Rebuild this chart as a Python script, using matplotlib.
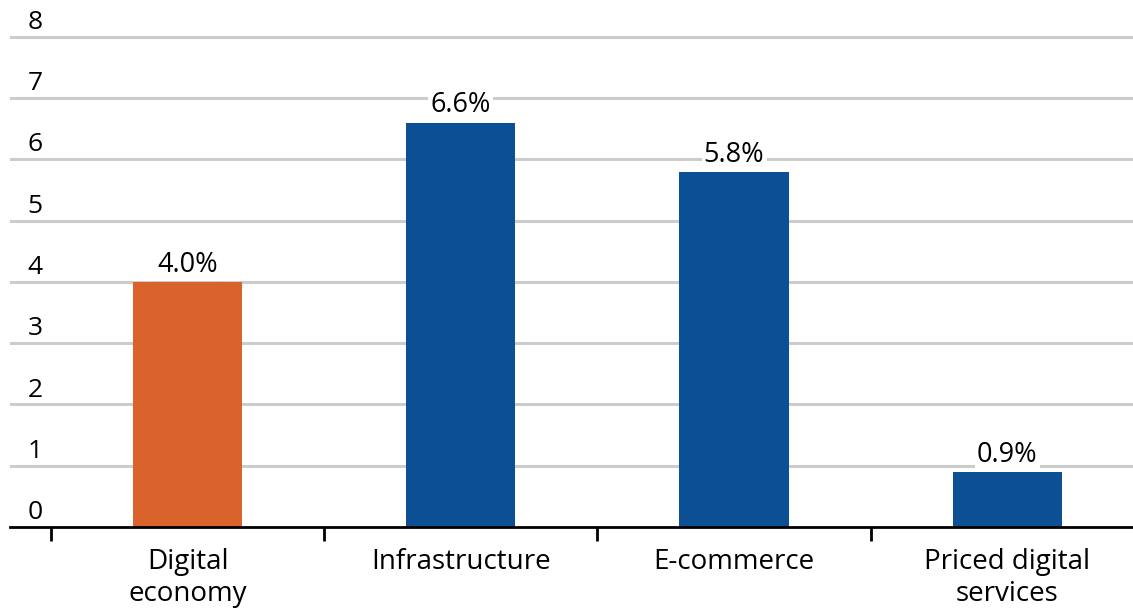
import matplotlib
matplotlib.use("Agg")
import matplotlib.pyplot as plt

categories = ["Digital\neconomy", "Infrastructure", "E-commerce", "Priced digital\nservices"]
values = [4.0, 6.6, 5.8, 0.9]
value_labels = ["4.0%", "6.6%", "5.8%", "0.9%"]
colors = ["#D9632A", "#0D4F94", "#0D4F94", "#0D4F94"]
yticks = [0, 1, 2, 3, 4, 5, 6, 7, 8]

plt.rcParams['font.family'] = ['Open Sans', 'DejaVu Sans']

fig = plt.figure(figsize=(11.33, 6.08), dpi=100)
ax = fig.add_axes([10/1133, 81/608, 1123/1133, 527/608])
ax.set_xlim(-0.65, 3.46)
ax.set_ylim(0, 8.6)

for y in yticks[1:]:
    ax.axhline(y, color="#cccccc", lw=2.2, zorder=0)

x = list(range(len(categories)))
ax.bar(x, values, width=0.4, color=colors, zorder=2)

for xi, v, lab in zip(x, values, value_labels):
    ax.text(xi, v + 0.05, lab, ha="center", va="bottom", fontsize=19.5, color="black",
            fontweight="medium",
            bbox=dict(facecolor="white", edgecolor="none", pad=1.5), zorder=1)

for y in yticks:
    ax.text(-0.558, y + 0.03, str(y), ha="center", va="bottom", fontsize=19, color="black")

for s in ["top", "right", "left"]:
    ax.spines[s].set_visible(False)
ax.spines["bottom"].set_linewidth(2)
ax.spines["bottom"].set_zorder(4)

ax.set_yticks([])
ax.set_xticks(x)
ax.set_xticklabels(categories, fontsize=20, linespacing=1.18)
ax.tick_params(axis="x", which="major", length=0, pad=15)
ax.set_xticks([-0.5, 0.5, 1.5, 2.5], minor=True)
ax.tick_params(axis="x", which="minor", length=10, width=2, direction="out")

fig.savefig("out.png", dpi=100)
